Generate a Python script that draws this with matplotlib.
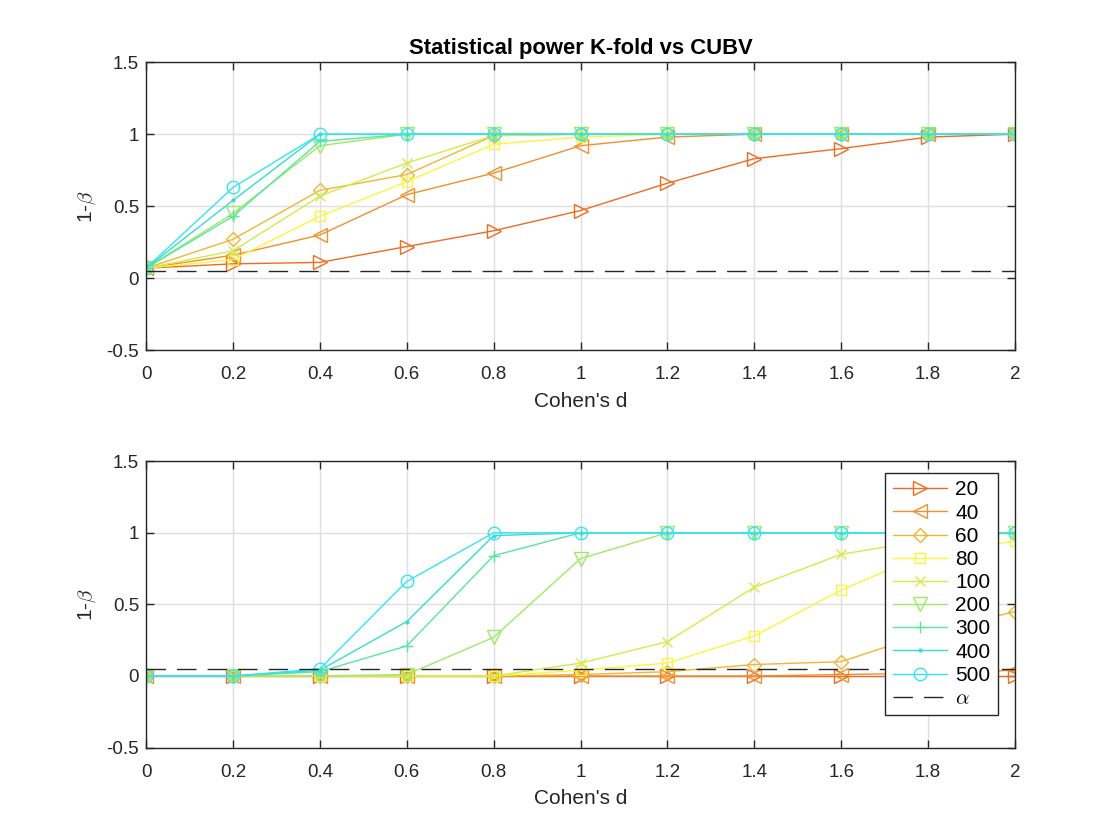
import numpy as np
import matplotlib
matplotlib.use("Agg")
from matplotlib import pyplot as plt

plt.rcParams["font.family"] = ["Liberation Sans", "DejaVu Sans"]
plt.rcParams["axes.unicode_minus"] = False
plt.rcParams["mathtext.fontset"] = "cm"

cohen_d = [0, 0.2, 0.4, 0.6, 0.8, 1.0, 1.2, 1.4, 1.6, 1.8, 2.0]
sample_sizes = ["20", "40", "60", "80", "100", "200", "300", "400", "500"]
alpha_level = 0.05

# K-fold power (top panel)
power_kfold = {
    "20":  [0.07, 0.10, 0.11, 0.22, 0.33, 0.47, 0.66, 0.83, 0.90, 0.98, 1.00],
    "40":  [0.07, 0.16, 0.30, 0.58, 0.73, 0.92, 0.98, 1.00, 1.00, 1.00, 1.00],
    "60":  [0.07, 0.27, 0.61, 0.72, 0.99, 1.00, 1.00, 1.00, 1.00, 1.00, 1.00],
    "80":  [0.07, 0.13, 0.43, 0.67, 0.93, 0.98, 1.00, 1.00, 1.00, 1.00, 1.00],
    "100": [0.07, 0.19, 0.57, 0.80, 0.99, 1.00, 1.00, 1.00, 1.00, 1.00, 1.00],
    "200": [0.07, 0.45, 0.92, 1.00, 1.00, 1.00, 1.00, 1.00, 1.00, 1.00, 1.00],
    "300": [0.07, 0.43, 0.95, 1.00, 1.00, 1.00, 1.00, 1.00, 1.00, 1.00, 1.00],
    "400": [0.07, 0.54, 1.00, 1.00, 1.00, 1.00, 1.00, 1.00, 1.00, 1.00, 1.00],
    "500": [0.07, 0.63, 1.00, 1.00, 1.00, 1.00, 1.00, 1.00, 1.00, 1.00, 1.00],
}

# CUBV power (bottom panel)
power_cubv = {
    "20":  [0.00, 0.00, 0.00, 0.00, 0.00, 0.00, 0.00, 0.00, 0.00, 0.00, 0.00],
    "40":  [0.00, 0.00, 0.00, 0.00, 0.00, 0.00, 0.00, 0.00, 0.01, 0.02, 0.04],
    "60":  [0.00, 0.00, 0.00, 0.00, 0.00, 0.01, 0.03, 0.08, 0.10, 0.30, 0.45],
    "80":  [0.00, 0.00, 0.00, 0.00, 0.00, 0.04, 0.09, 0.28, 0.60, 0.86, 0.94],
    "100": [0.00, 0.00, 0.00, 0.00, 0.00, 0.09, 0.24, 0.62, 0.85, 0.95, 1.00],
    "200": [0.00, 0.00, 0.00, 0.01, 0.27, 0.82, 1.00, 1.00, 1.00, 1.00, 1.00],
    "300": [0.00, 0.00, 0.03, 0.21, 0.84, 1.00, 1.00, 1.00, 1.00, 1.00, 1.00],
    "400": [0.00, 0.00, 0.04, 0.38, 0.98, 1.00, 1.00, 1.00, 1.00, 1.00, 1.00],
    "500": [0.00, 0.00, 0.05, 0.66, 1.00, 1.00, 1.00, 1.00, 1.00, 1.00, 1.00],
}

colors = ["#EE6C22", "#F0902E", "#F0B632", "#FAF63C", "#D2EC48",
          "#9EEA68", "#58E6A0", "#38DCCE", "#38E4F4"]
markers = [">", "<", "D", "s", "x", "v", "+", ".", "o"]
msizes = [9.5, 9.5, 7, 7, 7, 9.5, 9, 4, 9]

xticks = [0, 0.2, 0.4, 0.6, 0.8, 1, 1.2, 1.4, 1.6, 1.8, 2]
xticklabels = ["0", "0.2", "0.4", "0.6", "0.8", "1", "1.2", "1.4", "1.6", "1.8", "2"]
yticks = [-0.5, 0, 0.5, 1, 1.5]
yticklabels = ["-0.5", "0", "0.5", "1", "1.5"]

fig = plt.figure(figsize=(11.2, 8.4), dpi=100)
ax1 = fig.add_axes([0.1304, 0.583, 0.7759, 0.343])
ax2 = fig.add_axes([0.1304, 0.110, 0.7759, 0.341])


def draw_panel(ax, data):
    for i, n in enumerate(sample_sizes):
        filled = markers[i] == "."
        ax.plot(cohen_d, data[n], color=colors[i], marker=markers[i],
                markersize=msizes[i], linewidth=1.0, markeredgewidth=1.0,
                markerfacecolor=colors[i] if filled else "none", label=n)
    ax.axhline(alpha_level, color="#262626", linewidth=1.0,
               linestyle=(0, (14, 8)), label=r"$\alpha$")
    ax.set_xlim(0, 2)
    ax.set_ylim(-0.5, 1.5)
    ax.set_xticks(xticks)
    ax.set_xticklabels(xticklabels)
    ax.set_yticks(yticks)
    ax.set_yticklabels(yticklabels)
    ax.grid(True, color="#DFDFDF", linewidth=1.0)
    ax.set_axisbelow(True)
    ax.tick_params(direction="in", length=6, width=1.0, top=True, right=True,
                   labelsize=13.5, colors="#262626")
    ax.tick_params(axis="x", pad=11.5)
    ax.tick_params(axis="y", pad=5)
    for sp in ax.spines.values():
        sp.set_color("#262626")
        sp.set_linewidth(1.0)
    ax.set_xlabel("Cohen's d", fontsize=15, color="#262626", labelpad=6)
    ax.set_ylabel(r"1-$\beta$", fontsize=15, color="#262626", labelpad=6)


draw_panel(ax1, power_kfold)
ax1.set_title("Statistical power K-fold vs CUBV", fontsize=15.8,
              fontweight="bold", pad=6)
draw_panel(ax2, power_cubv)

leg = ax2.legend(loc="upper right", bbox_to_anchor=(0.980, 0.958),
                 borderaxespad=0, fontsize=15, frameon=True, fancybox=False,
                 edgecolor="#262626", framealpha=1.0, handlelength=2.6,
                 labelspacing=0.2, borderpad=0.35, handletextpad=0.4)
leg.get_frame().set_linewidth(1.0)

fig.savefig("out.png", dpi=100)
